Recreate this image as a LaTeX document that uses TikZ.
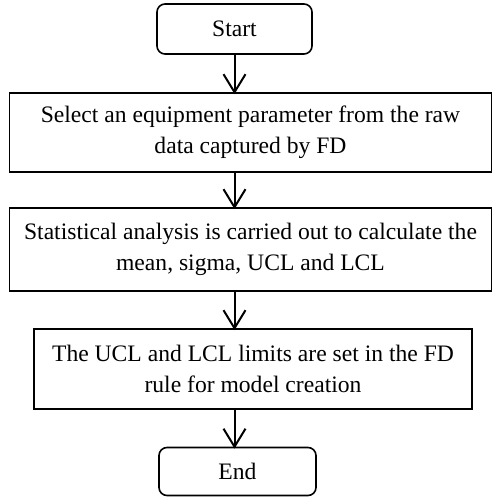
\documentclass[tikz,border=0pt]{standalone}
\usepackage{fontspec}
\setmainfont{Liberation Serif}
\begin{document}
\begin{tikzpicture}[x=1pt,y=-1pt,
  box/.style={draw, line width=1.6pt, align=center, inner sep=0pt, font=\fontsize{23.6}{31}\selectfont},
  term/.style={box, rounded corners=8pt},
  flow/.style={draw, line width=2pt},
  head/.style={draw, line width=2pt, line join=miter}]
\useasboundingbox (0,0) rectangle (493,497);
\node[term, minimum width=155pt, minimum height=50pt] (s) at (234.5,29) {Start};
\node[box, minimum width=482pt, minimum height=79pt] (b1) at (250.5,132.5) {Select an equipment parameter from the raw\\data captured by FD};
\node[box, minimum width=482pt, minimum height=83pt] (b2) at (250.5,249.5) {Statistical analysis is carried out to calculate the\\mean, sigma, UCL and LCL};
\node[box, minimum width=438pt, minimum height=80pt] (b3) at (253,369) {The UCL and LCL limits are set in the FD\\rule for model creation};
\node[term, minimum width=157pt, minimum height=48pt] (e) at (237.5,471.5) {End};
\coordinate (t1) at (s.south |- b1.north);
\coordinate (t2) at (s.south |- b2.north);
\coordinate (t3) at (s.south |- b3.north);
\coordinate (t4) at (s.south |- e.north);
\draw[flow] (s.south) -- (t1);
\draw[flow] (s.south |- b1.south) -- (t2);
\draw[flow] (s.south |- b2.south) -- (t3);
\draw[flow] (s.south |- b3.south) -- (t4);
\foreach \t in {t1,t2,t3,t4}
  \draw[head] (\t) ++(-11,-18) -- (\t) -- ++(11,-18);
\end{tikzpicture}
\end{document}
